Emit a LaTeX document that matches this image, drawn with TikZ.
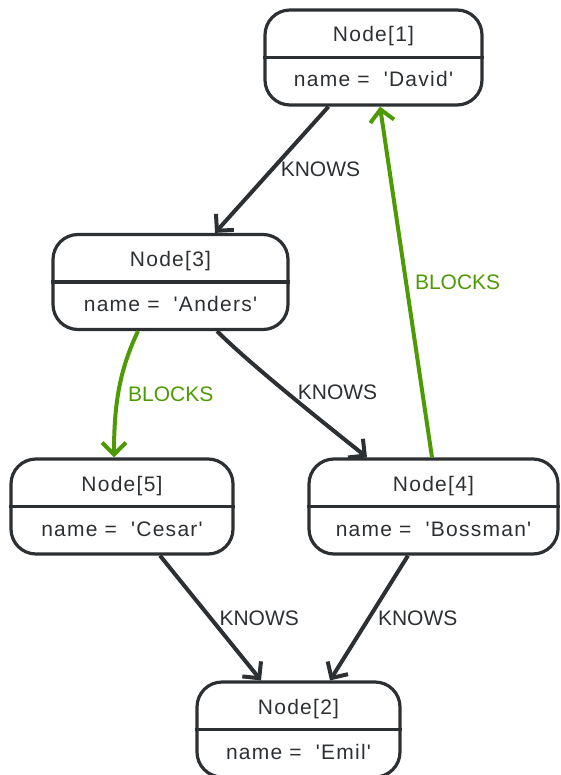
\documentclass[tikz,border=0pt]{standalone}
\usepackage{fontspec}
\setmainfont{Liberation Sans}
\newfontfamily\boxfont[LetterSpace=6]{Liberation Sans}
\usetikzlibrary{arrows.meta}
\definecolor{inkgray}{RGB}{45,48,51}
\definecolor{blockgreen}{RGB}{78,154,6}

\begin{document}
\begin{tikzpicture}[
    x=1pt, y=-1pt,
    font=\fontsize{21}{25}\selectfont,
    entity/.style={draw=inkgray, line width=3.2pt, rounded corners=25pt, minimum height=95pt, inner sep=0pt},
    field/.style={font=\boxfont\fontsize{21}{25}\selectfont, text=inkgray, inner sep=0pt, anchor=base},
    divider/.style={draw=inkgray, line width=3.2pt},
    knows/.style={draw=inkgray, line width=4pt, -{Straight Barb[length=12pt, width=24pt]}},
    blocks/.style={knows, draw=blockgreen},
    tag/.style={anchor=west, inner sep=7pt, text=inkgray},
    blocktag/.style={tag, text=blockgreen},
]
\useasboundingbox (0,0) rectangle (560,775);

% entities
\node[entity, minimum width=217pt] (n1) at (373.5,57.5) {};
\node[field] (n1title) at ([yshift=15.5pt]n1.center) {Node[1]};
\node[field] (n1name) at ([yshift=-29.5pt]n1.center) {name = \ 'David'};
\draw[divider] (n1.west) -- (n1.east);

\node[entity, minimum width=235pt] (n3) at (170.5,282) {};
\node[field] (n3title) at ([yshift=15.5pt]n3.center) {Node[3]};
\node[field] (n3name) at ([yshift=-29.5pt]n3.center) {name = \ 'Anders'};
\draw[divider] (n3.west) -- (n3.east);

\node[entity, minimum width=222pt] (n5) at (122,506.5) {};
\node[field] (n5title) at ([yshift=15.5pt]n5.center) {Node[5]};
\node[field] (n5name) at ([yshift=-29.5pt]n5.center) {name = \ 'Cesar'};
\draw[divider] (n5.west) -- (n5.east);

\node[entity, minimum width=249pt] (n4) at (433.5,506.5) {};
\node[field] (n4title) at ([yshift=15.5pt]n4.center) {Node[4]};
\node[field] (n4name) at ([yshift=-29.5pt]n4.center) {name = \ 'Bossman'};
\draw[divider] (n4.west) -- (n4.east);

\node[entity, minimum width=203pt] (n2) at (298.5,729.5) {};
\node[field] (n2title) at ([yshift=15.5pt]n2.center) {Node[2]};
\node[field] (n2name) at ([yshift=-29.5pt]n2.center) {name = \ 'Emil'};
\draw[divider] (n2.west) -- (n2.east);

% relationships
\draw[knows] ([xshift=-45pt]n1.south) -- node[tag] {KNOWS} ([xshift=44.5pt]n3.north);
\draw[blocks] ([xshift=-1.5pt]n4.north) -- node[blocktag] {BLOCKS} ([xshift=6.5pt]n1.south);
\draw[blocks] ([xshift=-32.5pt]n3.south) .. controls +(-18,38) and +(0,-55) .. node[blocktag, pos=0.55, inner sep=8pt] {BLOCKS} ([xshift=-8pt]n5.north);
\draw[knows] ([xshift=46.5pt]n3.south) .. controls +(35,35) and +(-35,-28) .. node[tag, pos=0.47, inner sep=9pt] {KNOWS} ([xshift=-66.5pt]n4.north);
\draw[knows] ([xshift=38pt]n5.south) -- node[tag] {KNOWS} ([xshift=-37.5pt]n2.north);
\draw[knows] ([xshift=-25.5pt]n4.south) -- node[tag] {KNOWS} ([xshift=31.5pt]n2.north);
\end{tikzpicture}
\end{document}
